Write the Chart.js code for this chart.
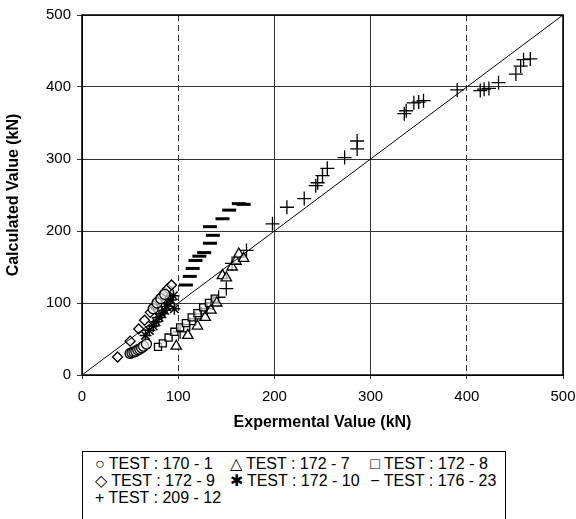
<!DOCTYPE html>
<html lang="en">
  <head>
    <meta charset="UTF-8" />
    <title>Calculated vs Experimental Value</title>
    <script src="https://cdn.jsdelivr.net/npm/chart.js"></script>
    <style>
      body {
        margin: 0;
        background: #ffffff;
        font-family: "Liberation Sans", Arial, sans-serif;
      }
      .wrap {
        position: relative;
        width: 576px;
        height: 519px;
        overflow: hidden;
      }
      .legend {
        position: absolute;
        left: 82px;
        top: 451px;
        width: 424px;
        height: 80px;
        border: 1px solid #000;
        box-sizing: border-box;
        padding: 3px 0 0 12px;
        font-size: 16px;
        line-height: 17px;
        color: #000;
      }
      .legend .row {
        display: flex;
        white-space: nowrap;
      }
      .legend span {
        display: inline-block;
        width: 140px;
      }
      .legend span:nth-child(2) {
        width: 146px;
      }
    </style>
  </head>
  <body>
    <div class="wrap">
      <canvas id="chart" width="576" height="438"></canvas>
      <div class="legend">
        <div class="row"><span>○ TEST : 170 - 1</span><span>△ TEST : 172 - 7</span><span>□ TEST : 172 - 8</span></div>
        <div class="row"><span>◇ TEST : 172 - 9</span><span>✱ TEST : 172 - 10</span><span>− TEST : 176 - 23</span></div>
        <div class="row"><span>+ TEST : 209 - 12</span></div>
      </div>
    </div>
    <script>
      // values (kN)
      const t170_1_x = [50, 52, 54, 56, 58, 60, 62, 64, 67, 74, 78, 82, 86];
      const t170_1_y = [30, 31, 32, 33, 35, 36, 38, 40, 43, 92, 100, 106, 112];

      const t172_7_x = [98, 110, 120, 128, 134, 140, 146, 150, 156, 160, 163, 168];
      const t172_7_y = [40, 55, 68, 80, 90, 100, 138, 135, 150, 158, 168, 162];

      const t172_8_x = [79, 84, 90, 96, 102, 108, 114, 120, 126, 132, 138];
      const t172_8_y = [39, 44, 52, 60, 66, 72, 80, 86, 94, 100, 106];

      const t172_9_x = [37, 50, 59, 65, 71, 76, 79, 83, 86, 89, 93];
      const t172_9_y = [25, 47, 64, 76, 87, 97, 104, 110, 115, 120, 125];

      const t172_10_x = [66, 70, 74, 77, 80, 83, 86, 88, 90, 92, 95, 96];
      const t172_10_y = [55, 62, 68, 74, 80, 85, 90, 95, 100, 104, 110, 92];

      const t176_23_x = [108, 112, 115, 118, 122, 127, 133, 136, 133, 146, 153, 163, 168];
      const t176_23_y = [125, 137, 148, 159, 165, 170, 183, 194, 206, 217, 229, 238, 237];

      const t209_12_x = [102, 112, 118, 124, 130, 136, 142, 150, 156, 171, 198, 213, 231, 243,
        245, 250, 255, 273, 286, 286, 335, 337, 345, 350, 355, 390, 414, 418, 423, 433,
        451, 456, 459, 466];
      const t209_12_y = [60, 70, 78, 85, 92, 100, 108, 120, 155, 173, 210, 233, 245, 263,
        267, 277, 287, 302, 314, 325, 363, 367, 378, 379, 381, 396, 395, 397, 398, 406,
        418, 429, 438, 439];

      const lineX = [0, 500];
      const lineY = [0, 500];
      const tickValues = [0, 100, 200, 300, 400, 500];

      const pts = (xs, ys) => xs.map((x, i) => ({ x: x, y: ys[i] }));

      const marker = (label, xs, ys, style, radius, width) => ({
        label: label,
        data: pts(xs, ys),
        pointStyle: style,
        pointRadius: radius,
        pointHoverRadius: radius,
        pointBorderWidth: width,
        borderColor: "#000",
        pointBorderColor: "#000",
        pointBackgroundColor: "rgba(255,255,255,0.6)",
        backgroundColor: "rgba(255,255,255,0.6)",
      });

      const frame = {
        id: "frame",
        afterDraw(chart) {
          const a = chart.chartArea;
          const ctx = chart.ctx;
          ctx.save();
          ctx.strokeStyle = "#000";
          ctx.lineWidth = 1.5;
          ctx.strokeRect(a.left, a.top, a.right - a.left, a.bottom - a.top);
          ctx.restore();
        },
      };

      const tickFont = { family: "'Liberation Sans', Arial, sans-serif", size: 15 };
      const titleFont = { family: "'Liberation Sans', Arial, sans-serif", size: 16, weight: "bold" };

      new Chart(document.getElementById("chart"), {
        type: "scatter",
        data: {
          datasets: [
            {
              type: "line",
              label: "1:1",
              data: pts(lineX, lineY),
              borderColor: "#000",
              borderWidth: 1,
              pointRadius: 0,
              fill: false,
            },
            marker("TEST : 170 - 1", t170_1_x, t170_1_y, "circle", 5, 1.3),
            marker("TEST : 172 - 7", t172_7_x, t172_7_y, "triangle", 6, 1.3),
            marker("TEST : 172 - 8", t172_8_x, t172_8_y, "rect", 5, 1.3),
            marker("TEST : 172 - 9", t172_9_x, t172_9_y, "rectRot", 5, 1.3),
            marker("TEST : 172 - 10", t172_10_x, t172_10_y, "star", 6, 1.5),
            marker("TEST : 176 - 23", t176_23_x, t176_23_y, "line", 7, 3),
            marker("TEST : 209 - 12", t209_12_x, t209_12_y, "cross", 7, 1.3),
          ],
        },
        plugins: [frame],
        options: {
          responsive: false,
          animation: false,
          layout: { padding: { top: 15, right: 13, left: 0, bottom: 0 } },
          plugins: {
            legend: { display: false },
            tooltip: { enabled: false },
          },
          scales: {
            x: {
              type: "linear",
              min: 0,
              max: 500,
              afterBuildTicks: (s) => {
                s.ticks = tickValues.map((v) => ({ value: v }));
              },
              afterFit: (s) => {
                s.height = 63;
                s.paddingRight = 0;
              },
              grid: {
                color: "#333",
                lineWidth: 1,
                tickLength: 4,
              },
              border: {
                color: "#000",
                dash: (c) => (c.tick && (c.tick.value === 100 || c.tick.value === 400) ? [6, 4] : []),
              },
              ticks: { color: "#000", font: tickFont, padding: 9, maxRotation: 0 },
              title: {
                display: true,
                text: "Expermental Value (kN)",
                color: "#000",
                font: titleFont,
                padding: { top: 0, bottom: 6 },
              },
            },
            y: {
              type: "linear",
              min: 0,
              max: 500,
              afterBuildTicks: (s) => {
                s.ticks = tickValues.map((v) => ({ value: v }));
              },
              afterFit: (s) => {
                s.width = 82;
              },
              grid: {
                color: "#333",
                lineWidth: 1,
                tickLength: 5,
              },
              border: { color: "#000" },
              ticks: { color: "#000", font: tickFont, padding: 6 },
              title: {
                display: true,
                text: "Calculated Value (kN)",
                color: "#000",
                font: titleFont,
                padding: { bottom: 6 },
              },
            },
          },
        },
      });
    </script>
  </body>
</html>
